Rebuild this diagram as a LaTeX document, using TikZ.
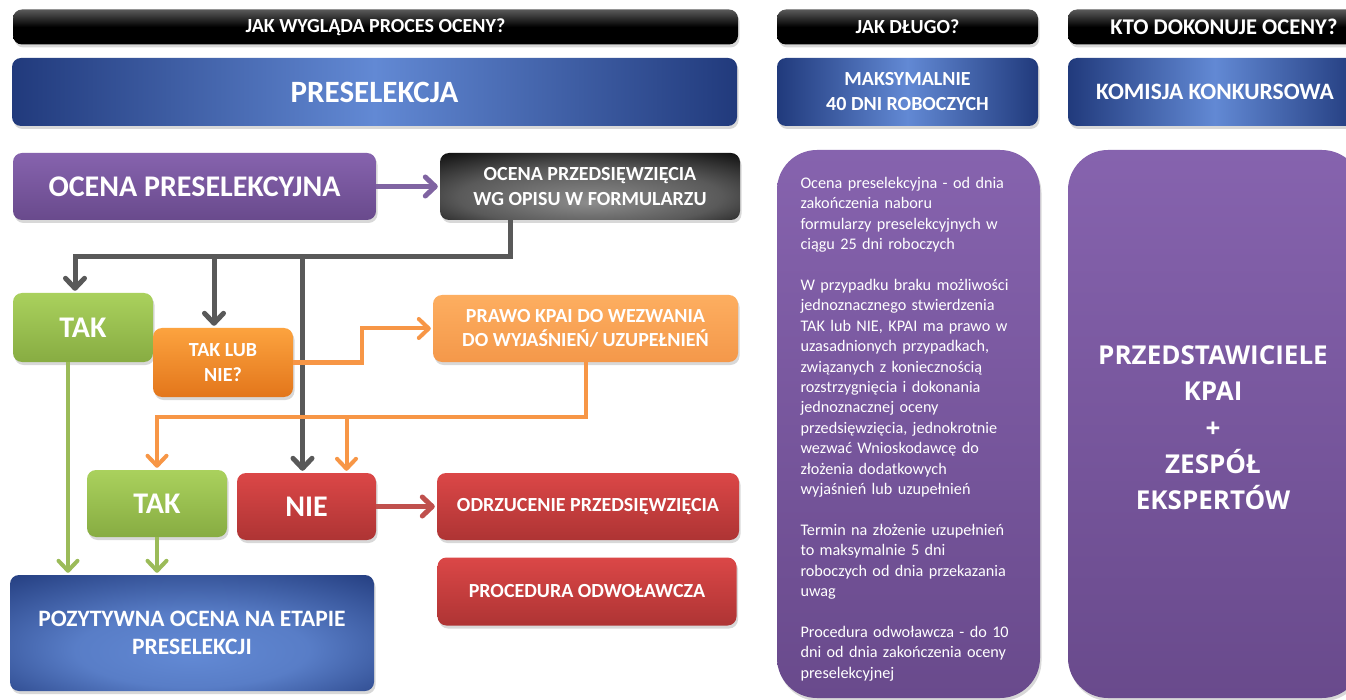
\documentclass[tikz,border=0pt]{standalone}
\usepackage{fontspec}
\setmainfont{Carlito}
\newfontfamily\widefont{Open Sans}
\usetikzlibrary{arrows.meta,shadows}
\definecolor{hdrgray}{HTML}{5A5A5A}
\definecolor{bardark}{HTML}{213A7C}
\definecolor{barlight}{HTML}{6289D4}
\definecolor{purtop}{HTML}{8663AE}
\definecolor{purbot}{HTML}{694A8C}
\definecolor{grtop}{HTML}{AAD15D}
\definecolor{grbot}{HTML}{87AC42}
\definecolor{ortop}{HTML}{FCA33F}
\definecolor{orbot}{HTML}{E3761B}
\definecolor{lotop}{HTML}{FDAE60}
\definecolor{lobot}{HTML}{F4984A}
\definecolor{retop}{HTML}{DB4747}
\definecolor{rebot}{HTML}{AE3434}
\definecolor{linegray}{HTML}{595959}
\definecolor{lineor}{HTML}{F79646}
\definecolor{linegr}{HTML}{9BBB59}
\definecolor{linepur}{HTML}{8064A2}
\definecolor{linered}{HTML}{C0504D}

\pgfdeclareradialshading{blackglow}{\pgfpoint{0bp}{-12bp}}{%
  color(0bp)=(black!45); color(22bp)=(black!65); color(42bp)=(black); color(60bp)=(black)}
\pgfdeclareradialshading{blueglow}{\pgfpoint{0bp}{-10bp}}{%
  color(0bp)=(barlight); color(16bp)=(barlight!85!bardark); color(40bp)=(bardark); color(60bp)=(bardark)}

\tikzset{
  box/.style={rounded corners=9pt, text=white, align=center, inner sep=0pt,
    drop shadow={opacity=.3, shadow xshift=1.5pt, shadow yshift=-3pt}},
  hdr/.style={box, top color=hdrgray, bottom color=black, middle color=black,
    minimum height=35pt, font=\bfseries\fontsize{20}{24}\selectfont},
  bar/.style={box, left color=bardark, right color=bardark, middle color=barlight,
    minimum height=68pt},
  purbox/.style={box, top color=purtop, bottom color=purbot},
  grbox/.style={box, top color=grtop, bottom color=grbot, minimum width=140pt,
    font=\bfseries\fontsize{30}{34}\selectfont},
  rebox/.style={box, top color=retop, bottom color=rebot, minimum height=67pt},
  small/.style={font=\bfseries\fontsize{20}{24.5}\selectfont},
  link/.style={line width=5pt, -{Straight Barb[round,length=10pt,width=19pt]},
    shorten >=2pt},
}

\begin{document}
\begin{tikzpicture}[x=1pt,y=-1pt]
  \useasboundingbox (0,0) rectangle (1346,700);
  \fill[white] (0,0) rectangle (1346,700);
  \clip (0,0) rectangle (1346,700);

  % headers
  \path
  (375.5,27) node[hdr, minimum width=725pt] (h1) {JAK WYGLĄDA PROCES OCENY?}
  (907.5,27) node[hdr, minimum width=261pt] (h2) {JAK DŁUGO?}
  (1224,27) node[hdr, minimum width=312pt, font=\bfseries\fontsize{22.5}{24}\selectfont] (h3) {KTO DOKONUJE OCENY?}
  (374.5,92) node[bar, minimum width=725pt, font=\bfseries\fontsize{31}{34}\selectfont] (b1) {PRESELEKCJA}
  (907.5,92) node[bar, minimum width=261pt, font=\bfseries\fontsize{20}{25}\selectfont] (b2) {MAKSYMALNIE\\40 DNI ROBOCZYCH}
  (1215,92) node[bar, minimum width=294pt, font=\bfseries\fontsize{23.5}{26}\selectfont] (b3) {KOMISJA KONKURSOWA}
  ;

  % columns
  \path
  (908.5,424) node[purbox, rounded corners=40pt, minimum width=263pt, minimum height=548pt] (czas) {}
  (1215,424) node[purbox, rounded corners=40pt, minimum width=294pt, minimum height=548pt] (kto) {}
  ;
  \node[text=white, align=center, inner sep=0pt,
    font=\widefont\bfseries\fontsize{26}{36.3}\selectfont] (ktotxt) at ([xshift=-2pt,yshift=-4pt]kto.center)
    {PRZEDSTAWICIELE\\KPAI\\+\\ZESPÓŁ\\EKSPERTÓW};
  \node[text=white, text width=218pt, align=left, inner sep=0pt,
    font=\fontsize{16.2}{20.4}\selectfont] (czastxt) at ([xshift=1pt,yshift=-5pt]czas.center)
    {Ocena preselekcyjna - od dnia\\ zakończenia naboru\\ formularzy preselekcyjnych w\\ ciągu 25 dni roboczych\\[20.4pt]
     W przypadku braku możliwości\\ jednoznacznego stwierdzenia\\ TAK lub NIE, KPAI ma prawo w\\ uzasadnionych przypadkach,\\
     związanych z koniecznością\\ rozstrzygnięcia i dokonania\\ jednoznacznej oceny\\ przedsięwzięcia, jednokrotnie\\
     wezwać Wnioskodawcę do\\ złożenia dodatkowych\\ wyjaśnień lub uzupełnień\\[20.4pt]
     Termin na złożenie uzupełnień\\ to maksymalnie 5 dni\\ roboczych od dnia przekazania\\ uwag\\[20.4pt]
     Procedura odwoławcza - do 10\\ dni od dnia zakończenia oceny\\ preselekcyjnej};

  % flow
  \path
  (194.5,186.5) node[purbox, minimum width=363pt, minimum height=67pt,
    font=\bfseries\fontsize{30}{34}\selectfont] (ocena) {OCENA PRESELEKCYJNA}
  (590,186.5) node[box, small, shade, shading=blackglow,
    minimum width=300pt, minimum height=67pt] (opis) {OCENA PRZEDSIĘWZIĘCIA\\WG OPISU W FORMULARZU}
  (83,327.5) node[grbox, minimum height=69pt] (tak) {TAK}
  (223,362.5) node[box, small, top color=ortop, bottom color=orbot,
    minimum width=140pt, minimum height=69pt] (taklub) {TAK LUB\\NIE?}
  (585.5,328.5) node[box, small, top color=lotop, bottom color=lobot,
    minimum width=305pt, minimum height=67pt] (prawo) {PRAWO KPAI DO WEZWANIA\\DO WYJAŚNIEŃ/ UZUPEŁNIEŃ}
  (157,503.5) node[grbox, minimum height=67pt] (tak2) {TAK}
  (306.5,506.5) node[rebox, minimum width=139pt, font=\bfseries\fontsize{30}{34}\selectfont] (nie) {NIE}
  (588,506.5) node[rebox, small, minimum width=302pt] (odrz) {ODRZUCENIE PRZEDSIĘWZIĘCIA}
  (587,591.5) node[rebox, small, minimum width=299pt, minimum height=68pt] (odwol) {PROCEDURA ODWOŁAWCZA}
  (192,633) node[box, shade, shading=blueglow, minimum width=364pt, minimum height=116pt,
    font=\bfseries\fontsize{23.5}{28}\selectfont] (pozyt) {POZYTYWNA OCENA NA ETAPIE\\PRESELEKCJI}
  ;

  \coordinate (gj) at (510,257);
  \coordinate (g1) at ([xshift=-8pt]tak.north);
  \coordinate (g2) at ([xshift=-9pt]taklub.north);
  \coordinate (g3) at ([xshift=-4pt]nie.north);
  \coordinate (oj) at ([yshift=-55pt]prawo.south);
  \coordinate (o2) at ([xshift=40pt]nie.north);
  \coordinate (gr1) at ([xshift=-15pt]tak.south);

  \draw[link, linepur] (ocena) -- (opis);
  \draw[link, linegray] (opis.south -| gj) -- (gj) -| (g1);
  \draw[link, linegray] (g2 |- gj) -- (g2);
  \draw[link, linegray] (g3 |- gj) -- (g3);
  \draw[link, lineor, line width=4pt] (taklub.east) -- ++(69,0) |- (prawo.west);
  \draw[link, lineor, line width=4pt] (prawo.south) -- (oj) -| (tak2.north);
  \draw[link, lineor, line width=4pt] (o2 |- oj) -- (o2);
  \draw[link, linered] (nie) -- (odrz);
  \draw[link, linegr, line width=4pt] (gr1) -- (gr1 |- pozyt.north);
  \draw[link, linegr, line width=4pt] (tak2.south) -- (tak2.south |- pozyt.north);
\end{tikzpicture}
\end{document}
